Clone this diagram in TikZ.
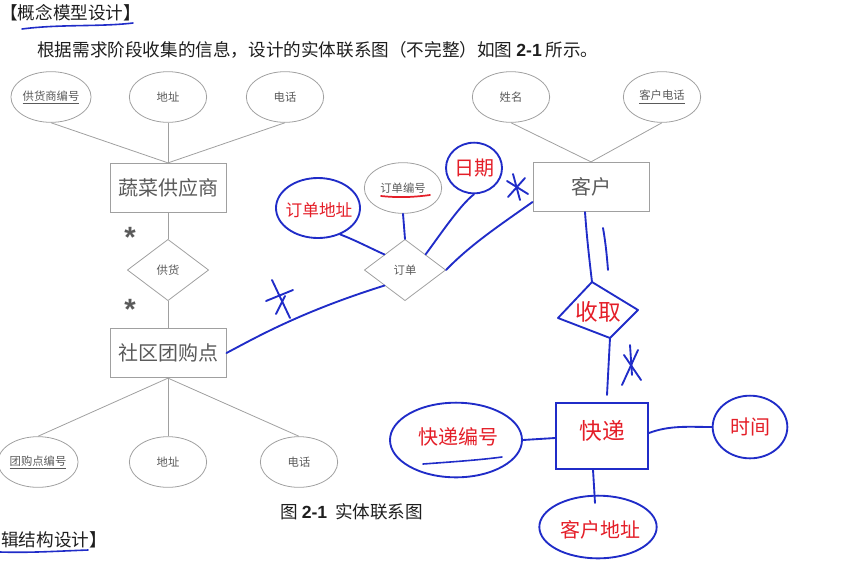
\documentclass[tikz,border=0pt]{standalone}
\usepackage{fontspec}
\setmainfont{Liberation Sans}
\newfontfamily\cjk{Noto Sans CJK SC}
\usetikzlibrary{shapes.geometric}
\definecolor{penblue}{RGB}{32,44,200}
\definecolor{penred}{RGB}{228,30,40}
\definecolor{ertext}{RGB}{90,90,90}
\definecolor{erline}{RGB}{160,160,160}
\definecolor{doctext}{RGB}{30,30,30}
\begin{document}
\begin{tikzpicture}[x=0.75pt,y=-0.75pt,
  ln/.style={draw=erline, line width=0.6pt},
  attr/.style={ellipse, draw=erline, line width=0.6pt, minimum width=58pt, minimum height=38pt, inner sep=0pt, text=ertext, font=\cjk\fontsize{8.5}{10}\selectfont},
  ent/.style={rectangle, draw=erline, line width=0.7pt, minimum width=87pt, minimum height=37pt, text=ertext, font=\cjk\fontsize{15}{18}\selectfont},
  rel/.style={diamond, draw=erline, line width=0.6pt, minimum width=61pt, minimum height=46pt, inner sep=0pt, text=ertext, font=\cjk\fontsize{8.5}{10}\selectfont},
  hb/.style={draw=penblue, line width=1.4pt, line cap=round, line join=round},
  blob/.style={ellipse, draw=penblue, line width=1.4pt, inner sep=0pt},
  hw/.style={text=penred, font=\cjk\fontsize{15}{18}\selectfont},
  grstar/.style={text=ertext, font=\bfseries\fontsize{22}{22}\selectfont},
  doc/.style={text=doctext, font=\cjk\fontsize{13.2}{16}\selectfont, inner sep=0pt}
]
\useasboundingbox (0,0) rectangle (845,572);

% ---- document text ----
\node[doc, anchor=west] (h1) at (0,13) {【概念模型设计】};
\draw[hb, line width=1.2pt] (22,29) .. controls (60,24) and (100,27) .. (133,23);
\node[doc, anchor=west] (p1) at (37,50) {根据需求阶段收集的信息，设计的实体联系图（不完整）如图 {\fontspec{Liberation Sans}\bfseries 2-1} 所示。};
\node[doc, anchor=west] (cap) at (280,512) {图 {\fontspec{Liberation Sans}\bfseries 2-1}\ \ 实体联系图};
\node[doc, anchor=west] (h2) at (1,540) {辑结构设计】};
\draw[hb, line width=1.2pt] (0,552) .. controls (30,553) and (60,551) .. (88,550);

% ---- left part of the ER diagram ----
\node[ent] (gys) at (168,188) {蔬菜供应商};
\node[attr] (a1) at (51,97) {\underline{供货商编号}};
\node[attr] (a2) at (168,97) {地址};
\node[attr] (a3) at (285,97) {电话};
\draw[ln] (a1.south) -- (gys.north);
\draw[ln] (a2.south) -- (gys.north);
\draw[ln] (a3.south) -- (gys.north);

\node[rel] (gh) at (168,270) {供货};
\node[ent] (tgd) at (168,353) {社区团购点};
\draw[ln] (gys.south) -- (gh.north);
\draw[ln] (gh.south) -- (tgd.north);
\node[grstar] (s1) at (130,237) {*};
\node[grstar] (s2) at (130,309) {*};

\node[attr] (b1) at (38,462) {\underline{团购点编号}};
\node[attr] (b2) at (168,462) {地址};
\node[attr] (b3) at (299,462) {电话};
\draw[ln] (tgd.south) -- (b1.north);
\draw[ln] (tgd.south) -- (b2.north);
\draw[ln] (tgd.south) -- (b3.north);

% ---- right part of the ER diagram ----
\node[ent] (kh) at (591,187) {客户};
\node[attr] (c1) at (511,97) {姓名};
\node[attr] (c2) at (662,97) {\underline{客户电话}};
\draw[ln] (c1.south) -- (kh.north);
\draw[ln] (c2.south) -- (kh.north);

\node[attr] (ddbh) at (403,188) {订单编号};
\node[rel] (dd) at (405,270) {订单};
\draw[draw=penred, line width=1.3pt, line cap=round] (381,196) .. controls (400,198) and (415,197) .. (430,195);

% ---- handwritten additions ----
\draw[hb] (tgd.east) .. controls (255,338) and (300,312) .. (dd.south west);
\draw[hb] (272,280) -- (290,318);
\draw[hb] (266,301) -- (293,290);
\draw[hb] (276,314) -- (285,296);

\draw[hb] (dd.east) .. controls (470,245) and (500,225) .. (kh.west |- 0,202);
\draw[hb] (513,174) -- (520,200);
\draw[hb] (507,181) -- (528,194);
\draw[hb] (508,197) -- (525,178);

\draw[hb] (ddbh.south) -- (dd.north);

\node[blob, minimum width=63pt, minimum height=45pt] (e1) at (318,208) {};
\node[hw, font=\cjk\fontsize{12.5}{15}\selectfont] (t1) at (319,210) {订单地址};
\draw[hb] (e1.-50) .. controls (355,240) and (370,248) .. (dd.north west);

\node[blob, minimum width=42pt, minimum height=38pt] (e2) at (474,168) {};
\node[hw] (t2) at (474,168) {日期};
\draw[hb] (e2.south) .. controls (460,205) and (440,235) .. (dd.north east);

% 收取 (hand-drawn relationship)
\coordinate (qT) at (592,282);
\coordinate (qR) at (638,310);
\coordinate (qB) at (610,338);
\coordinate (qL) at (558,318);
\draw[hb] (qT) -- (qR) -- (qB) -- (qL) -- cycle;
\node[hw, font=\cjk\fontsize{17}{20}\selectfont] (sq) at (598,312) {收取};
\draw[hb] (kh.south -| 585,0) .. controls (587,240) and (590,265) .. (qT);
\draw[hb] (603,228) .. controls (606,245) and (607,258) .. (608,270);
\draw[hb] (qB) -- (607,395);
\draw[hb] (624,355) -- (641,380);
\draw[hb] (638,350) -- (622,385);
\draw[hb] (630,345) -- (632,375);

\node[draw=penblue, line width=1.4pt, minimum width=69pt, minimum height=49pt, inner sep=0pt] (kd) at (602,436) {};
\node[hw, font=\cjk\fontsize{17}{20}\selectfont] (tkd) at (602,431) {快递};

\node[blob, minimum width=99pt, minimum height=56pt] (e3) at (456,440) {};
\node[hw] (t3) at (458,437) {快递编号};
\draw[hb, line width=1.2pt] (423,464) .. controls (450,462) and (480,460) .. (502,457);
\draw[hb] (e3.east) -- (kd.west |- 0,438);

\node[blob, minimum width=56pt, minimum height=47pt] (e4) at (750,427) {};
\node[hw] (t4) at (750,427) {时间};
\draw[hb] (kd.east |- 0,433) .. controls (670,425) and (690,427) .. (e4.west);

\node[blob, minimum width=88pt, minimum height=47pt] (e5) at (598,527) {};
\node[hw] (t5) at (600,530) {客户地址};
\draw[hb] (kd.south -| 593,0) -- (595,503);

\end{tikzpicture}
\end{document}
